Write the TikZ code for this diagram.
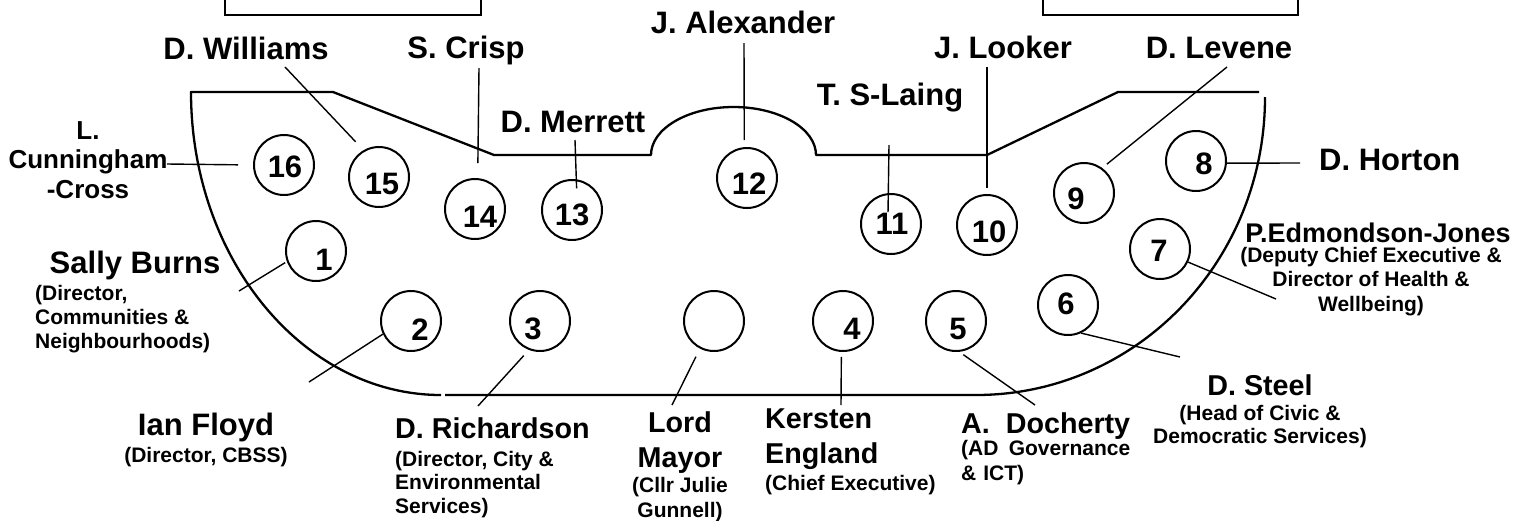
\documentclass[tikz,border=0pt]{standalone}
\usepackage{fontspec}
\setmainfont{Liberation Sans}
\newcommand\bignamefont{\fontsize{31}{35}\selectfont\bfseries}
\newcommand\lownamefont{\fontsize{28.7}{35}\selectfont\bfseries}
\newcommand\detailfont{\fontsize{21}{24}\selectfont\bfseries}
\newcommand\seatfont{\fontsize{31}{31}\selectfont\bfseries}
\begin{document}
\begin{tikzpicture}
[x=1pt,y=-1pt,
  seatdecorate/.style={shape=circle,draw,line width=2pt,minimum size=60pt,inner sep=0pt},%
  numberdecorate/.style={font=\seatfont,inner sep=0pt},%
  linedecorate/.style={-,line width=1.4pt},%
  tabledecorate/.style={line width=2.3pt,line join=round},%
  boxdecorate/.style={line width=2pt},%
  namedecorate/.style={font=\bignamefont,inner sep=0pt,anchor=base},%
  lownamedecorate/.style={font=\lownamefont,inner sep=0pt,anchor=base,align=center},%
  detaildecorate/.style={font=\detailfont,inner sep=0pt,anchor=base,align=center}]
\useasboundingbox (0,0) rectangle (1527,520);
\clip (0,0) rectangle (1527,520);
%% top boxes
\draw[boxdecorate] (225,-10) rectangle (481,15);
\draw[boxdecorate] (1043,-10) rectangle (1298,15);
%% table outline
\draw[tabledecorate] (441,395) .. controls (303.5,395) and (191,259) .. (191,92)
  -- (333,92) -- (494,155) -- (651,155)
  .. controls (651,128.5) and (688,107) .. (733.5,107)
  .. controls (779,107) and (816,128.5) .. (816,155)
  -- (987,155) -- (1118,92) -- (1259,92);
\draw[tabledecorate] (1265,97) .. controls (1265,262) and (1136,395) .. (976,395)
  -- (445,395);
%% seats
\foreach \nodename/\x/\y/\nx/\ny in {
  1/316/251/324/260, 2/411/321/420/330, 3/540/321/533/329,
  4/843/321/852/329, 5/956/321/958/329, 6/1068/305/1066/304,
  7/1160/249/1159/251, 8/1196/161/1204/164, 9/1084/193/1076/199,
  10/987/225/989/232, 11/891/224/892/224, 12/747/178/749/184,
  13/572/210/572/215, 14/475/209/480/217, 15/379/177/382/184,
  16/284/165/285/167} {
  \node (c\nodename) at (\x,\y) [seatdecorate] {};
  \node [numberdecorate] at (\nx,\ny) {\nodename};
}
\node (cmayor) at (714,321) [seatdecorate] {};
%% names along the top
\foreach \labelname/\x/\y/\labeltext in {
  williams/246/59/D. Williams, crisp/466/58/S. Crisp,
  alexander/743/33/J. Alexander, merrett/573/132/D. Merrett,
  laing/890/105/T. S-Laing, looker/1003/58/J. Looker,
  levene/1219/58/D. Levene} {
  \node (\labelname) at (\x,\y) [namedecorate] {\labeltext};
}
\node (horton) at (1319,170) [namedecorate,anchor=base west] {D. Horton};
% multi-line nodes sit on the baseline of their last line
\node (cunningham) at (88,198) [inner sep=0pt,anchor=base,align=center,
  font=\fontsize{26}{29.5}\selectfont\bfseries] {L.\\Cunningham\\-Cross};
%% names with roles
\node (burns) at (135,273) [namedecorate] {Sally Burns};
\node (burnsrole) at (35,348) [detaildecorate,anchor=base west,align=left]
  {(Director,\\Communities \&\\Neighbourhoods)};
\node (floyd) at (206,435) [namedecorate] {Ian Floyd};
\node (floydrole) at (206,462) [detaildecorate] {(Director, CBSS)};
\node (richardson) at (395,438) [lownamedecorate,anchor=base west] {D. Richardson};
\node (richardsonrole) at (395,513) [detaildecorate,anchor=base west,align=left,
  font=\fontsize{21}{23.5}\selectfont\bfseries] {(Director, City \&\\Environmental\\Services)};
\node (mayor) at (680,467) [lownamedecorate] {Lord\\Mayor};
\node (mayorrole) at (680,517) [detaildecorate,
  font=\fontsize{21}{25}\selectfont\bfseries] {(Cllr Julie\\Gunnell)};
\node (england) at (765,463) [lownamedecorate,anchor=base west,align=left] {Kersten\\England};
\node (englandrole) at (765,490) [detaildecorate,anchor=base west] {(Chief Executive)};
\node (docherty) at (961,433) [lownamedecorate,anchor=base west,text width=169pt,
  align=left] {A.\hfill Docherty};
\node (dochertyrole) at (961,455) [detaildecorate,anchor=base west,text width=169pt,
  align=left,font=\fontsize{21}{25}\selectfont\bfseries] {(AD\hfill Governance\\\& ICT)};
\node (steel) at (1260,395) [lownamedecorate] {D. Steel};
\node (steelrole) at (1260,443) [detaildecorate,
  font=\fontsize{21}{23}\selectfont\bfseries] {(Head of Civic \&\\Democratic Services)};
\node (edmondson) at (1378,242) [namedecorate,
  font=\fontsize{27}{30}\selectfont\bfseries] {P.Edmondson-Jones};
\node (edmondsonrole) at (1371,311) [detaildecorate,
  font=\fontsize{21}{24.5}\selectfont\bfseries]
  {(Deputy Chief Executive \&\\Director of Health \&\\Wellbeing)};
%% edges or lines
\foreach \nodename/\x/\y/\navigate/\trim in {
  16/167/164/180/15pt, 15/285/67/120/11.5pt, 14/479/68/85/15pt,
  13/575/140/82/-9pt, 12/744/43/95/7pt, 11/889/145/95/-19pt,
  10/987/67/90/6pt, 9/1227/67/54/6pt, 8/1300/163/-4/0pt,
  7/1276/299/-25/0pt, 6/1180/357/-65/0pt, 5/1035/405/-84/5pt,
  4/841/405/-93/5pt, 3/478/406/-111/7.6pt, 2/309/382/-155/0pt,
  1/239/291/-160/2pt} {
  \draw[linedecorate,shorten >=\trim] (\x,\y) coordinate (p\nodename) -- (c\nodename.\navigate);
}
\draw[linedecorate,shorten >=9pt] (672,405) coordinate (pmayor) -- (cmayor.-117);
\end{tikzpicture}
\end{document}
